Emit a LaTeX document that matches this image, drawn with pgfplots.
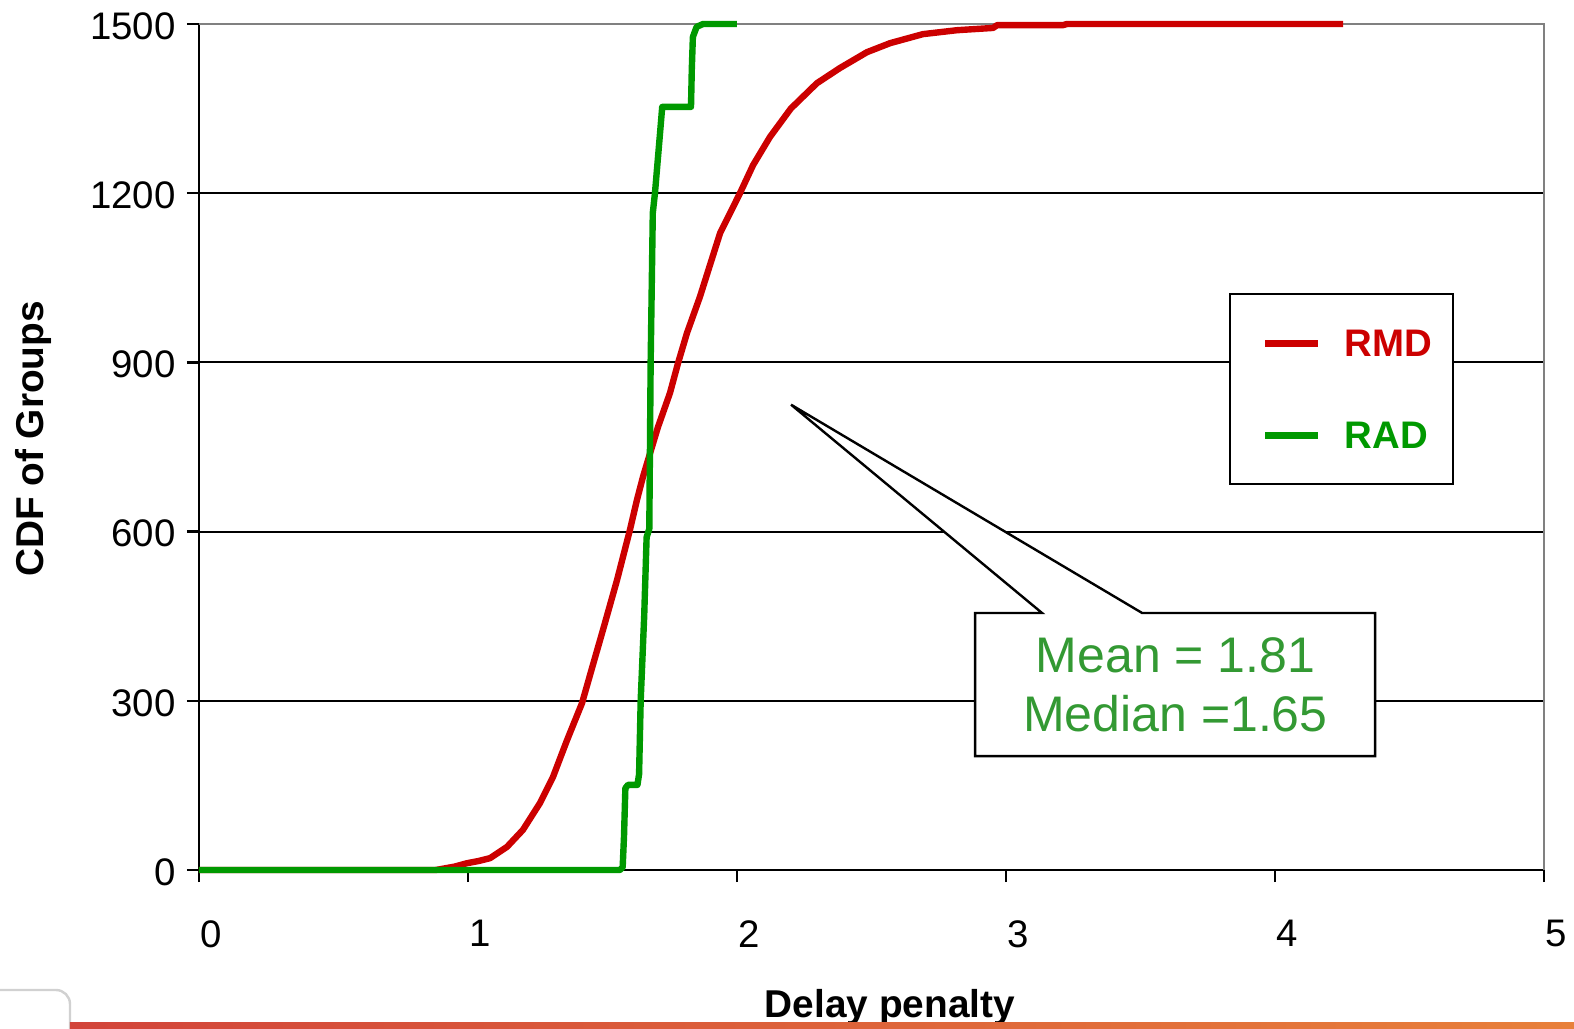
\documentclass[border=0pt]{standalone}
\usepackage{fontspec}
\setmainfont{Liberation Sans}
\usepackage{pgfplots}
\pgfplotsset{compat=1.18}
\definecolor{rmdred}{HTML}{CC0000}
\definecolor{radgreen}{HTML}{009900}
\definecolor{txtgreen}{HTML}{339933}
\definecolor{framegray}{HTML}{808080}
\definecolor{bandL}{HTML}{D2443A}
\definecolor{bandR}{HTML}{E8803A}
\begin{document}
\begin{tikzpicture}
\begin{axis}[
  at={(0,0)}, anchor=south west,
  scale only axis, width=672.5pt, height=423pt,
  xmin=0, xmax=5, ymin=0, ymax=1500,
  xtick={0,1,2,3,4,5}, ytick={0,300,600,900,1200,1500},
  axis lines*=left,
  axis line style={-, black, line width=1.3pt},
  ymajorgrids, major grid style={black, line width=1pt},
  tick align=outside, major tick length=6pt,
  tick style={black, line width=1.2pt},
  clip=false,
  /pgf/number format/assume math mode=true,
  /pgf/number format/1000 sep={},
  ticklabel style={font=\fontsize{19.2}{23}\selectfont},
  xticklabel style={anchor=north, inner sep=0pt, yshift=-19pt, xshift=6pt},
  yticklabel style={anchor=east, inner sep=0pt, xshift=-5.5pt, yshift=-1pt},
  xlabel={Delay penalty}, ylabel={CDF of Groups},
  label style={font=\fontsize{19.4}{23}\selectfont\bfseries},
  xlabel style={at={(axis description cs:0.5138,-0.1738)}, anchor=base},
  ylabel style={at={(axis description cs:-0.1234,0.5095)}, anchor=center},
  legend style={at={(axis cs:3.829,1023)}, anchor=north west, draw=black,
    line width=1.2pt, fill=white, inner xsep=10.5pt, inner ysep=17.5pt,
    row sep=32pt, column sep=11.5pt,
    nodes={inner sep=0pt, text depth=0pt}, cells={anchor=west},
    font=\fontsize{19.2}{23}\selectfont\bfseries},
  legend image code/.code={\path[draw=none, fill=none] (0pt,-7pt) rectangle (33.5pt,7pt);
    \draw[#1, line width=3.5pt, line cap=butt] (7pt,0pt) -- (33.5pt,0pt);},
]
\draw[framegray, line width=1.2pt] (rel axis cs:0,1) -- (rel axis cs:1,1) -- (rel axis cs:1,0);

\addplot[rmdred, line width=3.2pt, line join=round] coordinates {
(0,0) (0.88,0) (0.95,6) (0.996,12) (1.04,16) (1.082,21) (1.145,41) (1.204,71)
(1.268,119) (1.316,165) (1.368,230) (1.424,296) (1.461,358) (1.502,426)
(1.554,514) (1.602,603) (1.628,656) (1.651,698) (1.706,785) (1.751,846)
(1.781,899) (1.814,952) (1.862,1016) (1.937,1129) (2.011,1200) (2.06,1250)
(2.123,1300) (2.20,1350) (2.297,1395) (2.383,1422) (2.483,1450) (2.569,1466)
(2.691,1482) (2.818,1489) (2.952,1493) (2.967,1498) (3.212,1498) (3.227,1500)
(4.253,1500)
};
\addlegendentry{\textcolor{rmdred}{RMD}}

\addplot[radgreen, line width=3.2pt, line join=round] coordinates {
(0,0) (1.565,0) (1.575,5) (1.58,60) (1.585,145) (1.595,151) (1.630,151)
(1.636,170) (1.642,301) (1.655,450) (1.664,590) (1.674,605) (1.679,899)
(1.687,1165) (1.695,1200) (1.714,1307) (1.722,1353) (1.829,1353) (1.832,1420)
(1.836,1477) (1.85,1495) (1.874,1500) (2.0,1500)
};
\addlegendentry{\textcolor{radgreen}{RAD}}

\draw[black, line width=1.2pt, fill=white, line join=miter]
  (axis cs:2.885,455.7) -- (axis cs:3.134,455.7) -- (axis cs:2.201,825)
  -- (axis cs:3.506,455.7) -- (axis cs:4.372,455.7) -- (axis cs:4.372,202)
  -- (axis cs:2.885,202) -- cycle;
\node[anchor=base, text=txtgreen, font=\fontsize{25}{30}\selectfont, inner sep=0pt]
  at (axis cs:3.63,351) {Mean = 1.81};
\node[anchor=base, text=txtgreen, font=\fontsize{25}{30}\selectfont, inner sep=0pt]
  at (axis cs:3.63,245) {Median =1.65};
\end{axis}
\draw[black!18, line width=1.2pt, rounded corners=7pt, fill=white]
  (-101pt,-60pt) -- (-64.5pt,-60pt) -- (-64.5pt,-81pt);
\shade[left color=bandL, right color=bandR] (-64.5pt,-79pt) rectangle (687.5pt,-76pt);
\pgfresetboundingbox
\useasboundingbox (-99.5pt,-79pt) rectangle (687.5pt,435pt);
\end{tikzpicture}
\end{document}
